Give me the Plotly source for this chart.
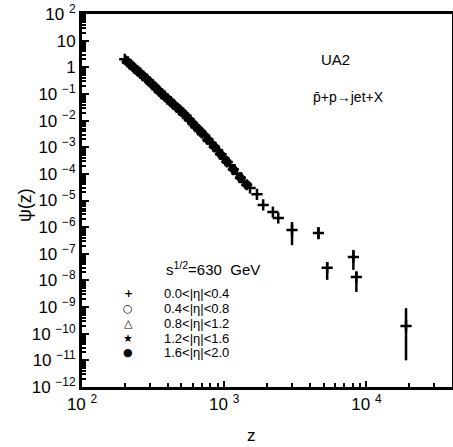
import plotly.graph_objects as go
import numpy as np

# --- data ---
z_a = [200, 210, 220, 232, 245, 257, 270, 285, 300, 315, 330, 348, 365, 382, 400, 420, 440,
       465, 490, 515, 540, 570, 600, 630, 660, 695, 730, 770, 810, 855, 900, 950,
       1000, 1050, 1100, 1160, 1230, 1300, 1370, 1440, 1520, 1700, 1880, 2200, 2400]
psi_a = [2.0, 1.6, 1.26, 0.96, 0.74, 0.60, 0.47, 0.36, 0.28, 0.22, 0.17, 0.13, 0.10, 0.082,
         0.066, 0.052, 0.041, 0.031, 0.024, 0.019, 0.0148, 0.0108, 7.9e-3, 6.0e-3,
         4.6e-3, 3.5e-3, 2.7e-3, 1.95e-3, 1.4e-3, 1.03e-3, 7.6e-4, 5.4e-4, 3.8e-4, 2.8e-4,
         2.1e-4, 1.45e-4, 1.0e-4, 7.2e-5, 5.1e-5, 3.9e-5, 2.95e-5, 1.7e-5, 6.8e-6, 3.7e-6,
         2.2e-6]

z_hi = [3000, 4600, 5300, 8100, 8500, 19000]
psi_hi = [7.8e-7, 6.0e-7, 3.0e-8, 7.6e-8, 1.35e-8, 1.95e-10]
psi_hi_up = [1.55e-6, 1.0e-6, 4.9e-8, 1.4e-7, 2.1e-8, 9.1e-10]
psi_hi_lo = [2.1e-7, 3.5e-7, 1.05e-8, 2.5e-8, 3.7e-9, 1.0e-11]

z_b = [210, 235, 260, 290, 320, 355, 390, 430, 470, 520, 580, 640, 700, 780, 860, 950,
       1050, 1160, 1300, 1450]
psi_b = [1.55, 0.91, 0.56, 0.33, 0.20, 0.118, 0.074, 0.046, 0.030, 0.018, 9.8e-3, 5.4e-3,
         3.4e-3, 1.8e-3, 1.0e-3, 5.2e-4, 2.8e-4, 1.5e-4, 7.1e-5, 3.8e-5]

z_c = [205, 228, 252, 280, 310, 345, 380, 420, 460, 510, 560, 620, 690, 760, 840, 930, 1030]
psi_c = [1.74, 1.05, 0.66, 0.40, 0.24, 0.135, 0.083, 0.051, 0.033, 0.0195, 0.012, 6.5e-3,
         3.6e-3, 2.0e-3, 1.15e-3, 6.2e-4, 3.2e-4]

z_d = [215, 240, 265, 295, 325, 360, 395, 435, 480, 530, 590, 650, 720]
psi_d = [1.4, 0.83, 0.51, 0.30, 0.19, 0.11, 0.069, 0.043, 0.027, 0.016, 8.7e-3, 5.0e-3, 2.95e-3]

z_e = [225, 250, 275, 305, 340, 375, 410, 450, 500]
psi_e = [1.12, 0.68, 0.43, 0.26, 0.148, 0.089, 0.058, 0.037, 0.022]

labels = ["0.0<|η|<0.4", "0.4<|η|<0.8", "0.8<|η|<1.2", "1.2<|η|<1.6", "1.6<|η|<2.0"]
legend_glyphs = ["<b>+</b>", "○", "△", "★", "●"]

y_exps = list(range(-12, 3))
x_exps = [2, 3, 4]

def sup_label(e):
    if e == 0:
        return "1"
    if e == 1:
        return "10"
    return "10 <sup>" + str(e).replace("-", "−") + "</sup>"

BLACK = "black"
FAM = "Liberation Sans, Arial"
fig = go.Figure()

fig.add_trace(go.Scatter(
    x=z_a + z_hi, y=psi_a + psi_hi, mode="markers", name=labels[0],
    marker=dict(symbol="cross-thin", size=8, color=BLACK, line=dict(width=2.5, color=BLACK)),
    error_y=dict(type="data", symmetric=False,
                 array=[0] * len(z_a) + [u - p for u, p in zip(psi_hi_up, psi_hi)],
                 arrayminus=[0] * len(z_a) + [p - l for l, p in zip(psi_hi_lo, psi_hi)],
                 thickness=2.5, width=0, color=BLACK)))
fig.add_trace(go.Scatter(
    x=z_b, y=psi_b, mode="markers", name=labels[1],
    marker=dict(symbol="circle-open", size=6, color=BLACK, line=dict(width=2.5, color=BLACK))))
fig.add_trace(go.Scatter(
    x=z_c, y=psi_c, mode="markers", name=labels[2],
    marker=dict(symbol="triangle-up-open", size=7, color=BLACK, line=dict(width=2.5, color=BLACK))))
fig.add_trace(go.Scatter(
    x=z_d, y=psi_d, mode="markers", name=labels[3],
    marker=dict(symbol="star", size=8, color=BLACK)))
fig.add_trace(go.Scatter(
    x=z_e, y=psi_e, mode="markers", name=labels[4],
    marker=dict(symbol="circle", size=7, color=BLACK)))

x_minor = [m * 10 ** e for e in [2, 3, 4] for m in range(2, 10) if m * 10 ** e < 40000]
y_minor = [m * 10.0 ** e for e in range(-12, 2) for m in range(2, 10)]

fig.update_xaxes(type="log", range=[2, np.log10(40000)], automargin=False,
                 ticklabeloverflow="allow",
                 tickvals=[10 ** e for e in x_exps], ticktext=[sup_label(e) for e in x_exps],
                 ticks="inside", ticklen=6, tickwidth=1.5, tickcolor=BLACK,
                 minor=dict(tickvals=x_minor, ticks="inside", ticklen=4, tickwidth=1.5, tickcolor=BLACK),
                 showline=True, linewidth=2.5, linecolor=BLACK, mirror=True,
                 showgrid=False, zeroline=False,
                 tickfont=dict(family=FAM, size=17, color=BLACK))
fig.update_yaxes(type="log", range=[-12, 2], automargin=False,
                 ticklabeloverflow="allow",
                 tickvals=[10.0 ** e for e in y_exps], ticktext=[sup_label(e) for e in y_exps],
                 ticks="inside", ticklen=7, tickwidth=2, tickcolor=BLACK,
                 minor=dict(tickvals=y_minor, ticks="inside", ticklen=4, tickwidth=1.5, tickcolor=BLACK),
                 showline=True, linewidth=3, linecolor=BLACK, mirror=True,
                 showgrid=False, zeroline=False,
                 tickfont=dict(family=FAM, size=17, color=BLACK))

font = dict(family=FAM, color=BLACK)
anns = [
    dict(text="UA2", x=0.684, y=0.877, size=15),
    dict(text="p\u0304+p→jet+X", x=0.719, y=0.777, size=14),
    dict(text="s<sup>1/2</sup>=630  GeV", x=0.354, y=0.319, size=15),
    dict(text="z", x=0.459, y=-0.13, size=17),
]
for a in anns:
    fig.add_annotation(text=a["text"], x=a["x"], y=a["y"], xref="paper", yref="paper",
                       showarrow=False, xanchor="center", yanchor="middle",
                       font=dict(size=a["size"], **font))
fig.add_annotation(text="ψ(z)", x=-0.154, y=0.488, xref="paper", yref="paper",
                   showarrow=False, textangle=-90, xanchor="center", yanchor="middle",
                   font=dict(size=18, **font))

# legend rows (text-based, tight spacing like the original)
row_y = [293, 308, 323, 338, 352]
for glyph, lab, py in zip(legend_glyphs, labels, row_y):
    yp = (387 - py) / 373
    fig.add_annotation(text=glyph, x=(128 - 82) / 370, y=yp, xref="paper", yref="paper",
                       showarrow=False, xanchor="center", yanchor="middle",
                       font=dict(size=11, family="DejaVu Sans", color=BLACK))
    fig.add_annotation(text=lab, x=(162 - 82) / 370, y=yp, xref="paper", yref="paper",
                       showarrow=False, xanchor="left", yanchor="middle",
                       font=dict(size=13, **font))

fig.update_layout(
    width=453, height=447,
    margin=dict(l=82, r=1, t=14, b=60),
    paper_bgcolor="white", plot_bgcolor="white",
    showlegend=False,
)

# remove the browser's default 8px page margin so the figure sits at the window corner
fig.write_html("out.html",
               config={"displayModeBar": False},
               post_script="document.body.style.margin='0';document.body.style.overflow='hidden';")
